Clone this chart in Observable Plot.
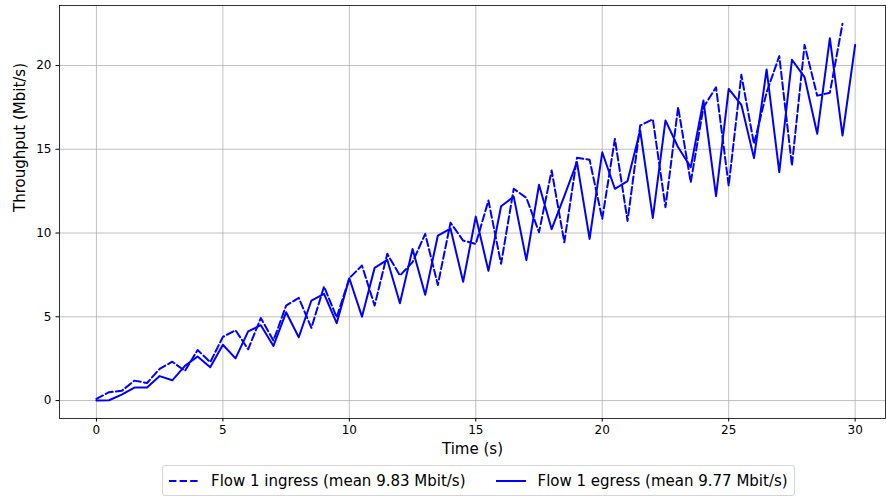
<!DOCTYPE html>
<html>
<head>
<meta charset="utf-8">
<script src="https://cdn.jsdelivr.net/npm/d3@7"></script>
<script src="https://cdn.jsdelivr.net/npm/@observablehq/plot@0.6"></script>
<style>
  body { margin: 0; background: #fff; font-family: "DejaVu Sans", sans-serif; }
  #wrap { position: relative; width: 886px; height: 498px; overflow: hidden; }
  #chart { position: absolute; left: 0; top: 0; }
  #legend {
    position: absolute; left: 162px; top: 465px; height: 31px;
    box-sizing: border-box; border: 1px solid #d5d5d5; border-radius: 3px;
    display: flex; align-items: center; padding: 0 6px;
    font-size: 15px; color: #000; background: #fff; white-space: nowrap;
  }
  #legend .item { display: flex; align-items: center; }
  #legend svg { display: block; margin-right: 12px; }
  #legend .gap { width: 30px; }
</style>
</head>
<body>
<div id="wrap">
  <div id="chart"></div>
  <div id="legend"></div>
</div>
<script>
// Time points (s)
const ingressTime = [0,0.5,1,1.5,2,2.5,3,3.5,4,4.5,5,5.5,6,6.5,7,7.5,8,8.5,9,9.5,10,10.5,11,11.5,12,12.5,13,13.5,14,14.5,15,15.5,16,16.5,17,17.5,18,18.5,19,19.5,20,20.5,21,21.5,22,22.5,23,23.5,24,24.5,25,25.5,26,26.5,27,27.5,28,28.5,29,29.5];
const egressTime = [0,0.5,1,1.5,2,2.5,3,3.5,4,4.5,5,5.5,6,6.5,7,7.5,8,8.5,9,9.5,10,10.5,11,11.5,12,12.5,13,13.5,14,14.5,15,15.5,16,16.5,17,17.5,18,18.5,19,19.5,20,20.5,21,21.5,22,22.5,23,23.5,24,24.5,25,25.5,26,26.5,27,27.5,28,28.5,29,29.5,30];

// Throughput (Mbit/s)
const ingressValues = [0.1,0.5,0.58,1.19,1.05,1.89,2.32,1.77,3.02,2.29,3.8,4.2,3.06,4.93,3.58,5.67,6.13,4.34,6.81,4.97,7.3,8.06,5.67,8.76,7.46,8.26,9.95,6.9,10.62,9.55,9.35,11.94,8.16,12.64,12.1,10.05,13.73,9.45,14.49,14.37,10.85,15.62,10.72,16.42,16.79,11.54,17.51,13.03,17.5,18.7,12.82,19.44,15.32,18.4,20.56,14.03,21.23,18.2,18.37,22.49];
const egressValues = [0,0.02,0.36,0.78,0.78,1.46,1.21,2.07,2.63,1.99,3.33,2.52,4.13,4.5,3.26,5.27,3.78,5.97,6.37,4.62,7.3,5.01,7.92,8.4,5.81,9.05,6.31,9.85,10.27,7.09,10.98,7.74,11.6,12.17,8.38,12.88,10.23,12.2,14.23,9.65,14.82,12.64,13.1,16.12,10.9,16.72,15.12,13.93,17.91,12.2,18.6,17.65,14.47,19.76,13.63,20.34,19.3,15.92,21.63,15.82,21.23];

const xTicks = [0, 5, 10, 15, 20, 25, 30];
const yTicks = [0, 5, 10, 15, 20];
const seriesNames = ["Flow 1 ingress (mean 9.83 Mbit/s)", "Flow 1 egress (mean 9.77 Mbit/s)"];
const xLabel = "Time (s)";
const yLabel = "Throughput (Mbit/s)";

const ingress = ingressTime.map((t, i) => ({t, v: ingressValues[i]}));
const egress = egressTime.map((t, i) => ({t, v: egressValues[i]}));

const blue = "#0000ff";
const dash = "7.4,3.2";
const lw = 2;

const chart = Plot.plot({
  width: 886,
  height: 462,
  marginLeft: 59,
  marginRight: 1,
  marginTop: 5,
  marginBottom: 44,
  style: { fontFamily: "DejaVu Sans", fontSize: "12px", color: "#000", background: "#fff" },
  x: { domain: [-1.46, 31.2] },
  y: { domain: [-1.07, 23.58] },
  marks: [
    Plot.gridX(xTicks, { stroke: "#b0b0b0", strokeOpacity: 1, strokeWidth: 0.8 }),
    Plot.gridY(yTicks, { stroke: "#b0b0b0", strokeOpacity: 1, strokeWidth: 0.8 }),
    Plot.axisX({ ticks: xTicks, tickSize: 3.5, tickPadding: 3.5, label: null, stroke: "#000", fill: "#000", fontSize: 12 }),
    Plot.axisY({ ticks: yTicks, tickSize: 3.5, tickPadding: 4.5, label: null, stroke: "#000", fill: "#000", fontSize: 12 }),
    Plot.line(ingress, { x: "t", y: "v", stroke: blue, strokeWidth: lw, strokeDasharray: dash }),
    Plot.line(egress, { x: "t", y: "v", stroke: blue, strokeWidth: lw }),
    Plot.frame({ stroke: "#000", strokeWidth: 0.8 }),
    Plot.text([xLabel], { frameAnchor: "bottom", dy: 35, fontSize: 15, fill: "#000" }),
    Plot.text([yLabel], { frameAnchor: "left", dx: -39, rotate: -90, fontSize: 15, fill: "#000" })
  ]
});
document.getElementById("chart").appendChild(chart);

// Legend
const legend = document.getElementById("legend");
seriesNames.forEach((name, i) => {
  if (i > 0) {
    const g = document.createElement("div");
    g.className = "gap";
    legend.appendChild(g);
  }
  const item = document.createElement("div");
  item.className = "item";
  const svgNS = "http://www.w3.org/2000/svg";
  const s = document.createElementNS(svgNS, "svg");
  s.setAttribute("width", "30");
  s.setAttribute("height", "10");
  const l = document.createElementNS(svgNS, "line");
  l.setAttribute("x1", "0"); l.setAttribute("x2", "30");
  l.setAttribute("y1", "5"); l.setAttribute("y2", "5");
  l.setAttribute("stroke", blue);
  l.setAttribute("stroke-width", String(lw));
  if (i === 0) l.setAttribute("stroke-dasharray", dash);
  s.appendChild(l);
  item.appendChild(s);
  const span = document.createElement("span");
  span.textContent = name;
  item.appendChild(span);
  legend.appendChild(item);
});
</script>
</body>
</html>
